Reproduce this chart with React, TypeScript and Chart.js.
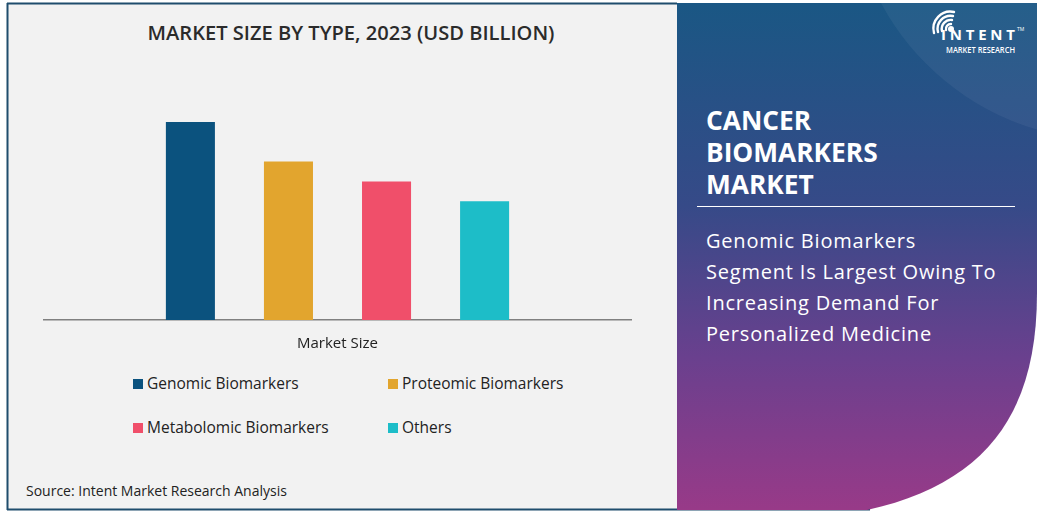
import React, { useEffect, useRef } from "react";
import { Chart, registerables } from "chart.js";

Chart.register(...registerables);

const categories = ["Market Size"];
const seriesNames = [
  "Genomic Biomarkers",
  "Proteomic Biomarkers",
  "Metabolomic Biomarkers",
  "Others",
];
const seriesValues = [10, 8, 7, 6];
const seriesColors = ["#0b527e", "#e2a52e", "#f04f6a", "#1dbdc8"];
const yMax = 11.11;

const chartTitle = "MARKET SIZE BY TYPE, 2023 (USD BILLION)";
const headline = ["CANCER", "BIOMARKERS", "MARKET"];
const subline = [
  "Genomic Biomarkers",
  "Segment Is Largest Owing To",
  "Increasing Demand For",
  "Personalized Medicine",
];
const sourceText = "Source: Intent Market Research Analysis";

const FONT = "'Open Sans', 'DejaVu Sans', sans-serif";

export default function App() {
  const ref = useRef<HTMLCanvasElement | null>(null);

  useEffect(() => {
    if (!ref.current) return;
    const chart = new Chart(ref.current, {
      type: "bar",
      data: {
        labels: categories,
        datasets: seriesNames.map((name, i) => ({
          label: name,
          data: [seriesValues[i]],
          backgroundColor: seriesColors[i],
          borderWidth: 0,
          barPercentage: 0.5,
          categoryPercentage: 0.666,
        })),
      },
      options: {
        responsive: false,
        animation: false,
        layout: { padding: 0 },
        plugins: {
          legend: { display: false },
          tooltip: { enabled: false },
        },
        scales: {
          x: {
            grid: { display: false, drawTicks: false },
            border: { display: true, color: "#808080", width: 1.5 },
            ticks: {
              color: "#222222",
              font: { family: FONT, size: 15 },
              padding: 15,
            },
            afterFit: (s: any) => {
              s.height = 40;
            },
          },
          y: { display: false, min: 0, max: yMax },
        },
      },
    });
    return () => chart.destroy();
  }, []);

  const legendPos = [
    [133, 379],
    [388, 379],
    [133, 423],
    [388, 423],
  ];

  return (
    <div
      style={{
        position: "fixed",
        left: 0,
        top: 0,
        width: 1043,
        height: 513,
        background: "#ffffff",
        overflow: "hidden",
        fontFamily: FONT,
      }}
    >
      <svg
        width={1043}
        height={513}
        style={{ position: "absolute", left: 0, top: 0 }}
      >
        <defs>
          <linearGradient id="panelGrad" x1="0" y1="0" x2="0" y2="1">
            <stop offset="0" stopColor="#1a5784" />
            <stop offset="0.4" stopColor="#364a88" />
            <stop offset="0.7" stopColor="#6a408e" />
            <stop offset="1" stopColor="#983a88" />
          </linearGradient>
          <clipPath id="panelClip">
            <path d="M677,3 H1037 V293 C1037,413 987,483 867,510 H677 Z" />
          </clipPath>
        </defs>
        {/* left panel */}
        <rect x={7} y={3} width={670} height={507} fill="#f2f2f2" />
        <line x1={7.5} y1={3} x2={7.5} y2={510} stroke="#1f4d6d" strokeWidth={2} />
        <line x1={7} y1={3.5} x2={677} y2={3.5} stroke="#1f4d6d" strokeWidth={2} />
        <line x1={7} y1={509.5} x2={870} y2={509.5} stroke="#1f4d6d" strokeWidth={2} />
        {/* right panel */}
        <path
          d="M677,3 H1037 V293 C1037,413 987,483 867,510 H677 Z"
          fill="url(#panelGrad)"
        />
        <g clipPath="url(#panelClip)">
          <circle cx={1110} cy={-120} r={260} fill="#ffffff" opacity={0.05} />
        </g>
        {/* logo */}
        <g fill="none" stroke="#ffffff" strokeWidth={2.4} strokeLinecap="round">
          <path d="M 946 30 A 5 5 0 0 1 951 24" />
          <path d="M 942 31 A 9 9 0 0 1 952 20" />
          <path d="M 938 32 A 13 13 0 0 1 953 16" />
          <path d="M 934 33 A 17 17 0 0 1 954 12" />
        </g>
        <circle cx={951} cy={29} r={3} fill="#ffffff" />
        <text
          x={941}
          y={40}
          fill="#ffffff"
          fontFamily={FONT}
          fontWeight={700}
          fontSize={15}
          textLength={74}
          lengthAdjust="spacing"
        >
          INTENT
        </text>
        <text x={1017} y={31} fill="#ffffff" fontFamily={FONT} fontSize={5}>
          TM
        </text>
        <text
          x={946}
          y={53}
          fill="#ffffff"
          fontFamily={FONT}
          fontWeight={600}
          fontSize={8}
          textLength={69}
          lengthAdjust="spacingAndGlyphs"
        >
          MARKET RESEARCH
        </text>
        {/* headline */}
        {headline.map((t, i) => (
          <text
            key={t}
            x={706}
            y={130 + i * 32}
            fill="#ffffff"
            fontFamily={FONT}
            fontWeight={700}
            fontSize={26.3}
          >
            {t}
          </text>
        ))}
        <line x1={697} y1={206.5} x2={1015} y2={206.5} stroke="#ffffff" strokeWidth={1} />
        {subline.map((t, i) => (
          <text
            key={t}
            x={706}
            y={248 + i * 31}
            fill="#ffffff"
            fontFamily={FONT}
            fontWeight={500}
            fontSize={20}
            letterSpacing={0.8}
          >
            {t}
          </text>
        ))}
        {/* chart title */}
        <text
          x={351}
          y={40}
          textAnchor="middle"
          fill="#2b2b2b"
          fontFamily={FONT}
          fontWeight={600}
          fontSize={19}
          textLength={407}
          lengthAdjust="spacingAndGlyphs"
        >
          {chartTitle}
        </text>
        {/* legend */}
        {seriesNames.map((n, i) => (
          <g key={n}>
            <rect
              x={legendPos[i][0]}
              y={legendPos[i][1]}
              width={10}
              height={10}
              fill={seriesColors[i]}
            />
            <text
              x={legendPos[i][0] + 14}
              y={legendPos[i][1] + 10}
              fill="#222222"
              fontFamily={FONT}
              fontSize={15.5}
            >
              {n}
            </text>
          </g>
        ))}
        <text x={26} y={496} fill="#222222" fontFamily={FONT} fontSize={14}>
          {sourceText}
        </text>
      </svg>
      <canvas
        ref={ref}
        width={589}
        height={260}
        style={{ position: "absolute", left: 43, top: 100, width: 589, height: 260 }}
      />
    </div>
  );
}
